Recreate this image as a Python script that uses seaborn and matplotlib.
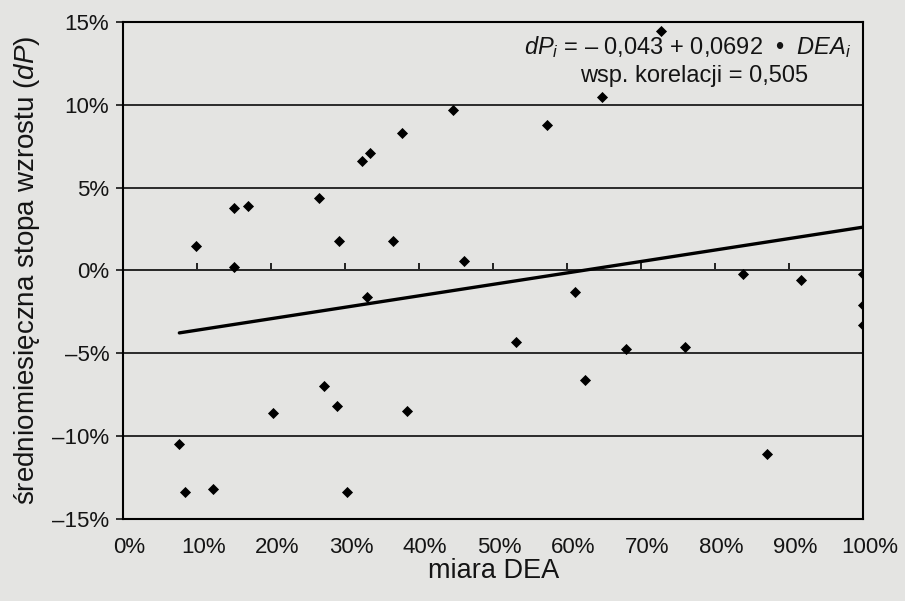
import matplotlib
matplotlib.use("Agg")
import matplotlib.pyplot as plt
import matplotlib.transforms as mtransforms
import seaborn as sns
import numpy as np
import pandas as pd
from matplotlib.ticker import FuncFormatter

# ---- data ----
dea = [0.099, 0.150, 0.169, 0.150, 0.265, 0.291, 0.323, 0.333, 0.377, 0.364,
       0.445, 0.460, 0.329, 0.727, 0.647, 0.572, 0.610, 0.837, 0.916, 1.000,
       1.000, 1.000, 0.531, 0.679, 0.759, 0.624, 0.870, 0.272, 0.289, 0.202,
       0.383, 0.076, 0.083, 0.121, 0.303]
dp_pct = [1.5, 3.8, 3.9, 0.2, 4.4, 1.8, 6.6, 7.1, 8.3, 1.8,
          9.7, 0.6, -1.6, 14.5, 10.5, 8.8, -1.3, -0.2, -0.6, -0.2,
          -2.1, -3.3, -4.3, -4.75, -4.6, -6.6, -11.1, -7.0, -8.2, -8.6,
          -8.5, -10.5, -13.4, -13.2, -13.4]
intercept = -0.043
slope = 0.0692
corr = "0,505"
x_ticks = [0, 0.1, 0.2, 0.3, 0.4, 0.5, 0.6, 0.7, 0.8, 0.9, 1.0]
y_ticks = [-0.15, -0.10, -0.05, 0, 0.05, 0.10, 0.15]

df = pd.DataFrame({"dea": dea, "dp": np.array(dp_pct) / 100.0})
fit_x = np.array([min(dea), max(dea)])
fit = pd.DataFrame({"dea": fit_x, "dp": intercept + slope * fit_x})

sns.set_theme(style="white")
plt.rcParams["font.family"] = ["Liberation Sans", "DejaVu Sans"]
plt.rcParams["mathtext.fontset"] = "custom"
plt.rcParams["mathtext.rm"] = "Liberation Sans"
plt.rcParams["mathtext.it"] = "Liberation Sans:italic"

ink = "#141414"
bg = "#e4e4e2"
fig = plt.figure(figsize=(9.05, 6.01), dpi=100, facecolor=bg)
ax = fig.add_axes([0.136, 0.137, 0.818, 0.826])
ax.set_facecolor(bg)

# gridlines
for yv in y_ticks:
    ax.axhline(yv, color="#2a2a2a", lw=1.4, zorder=1)

sns.lineplot(data=fit, x="dea", y="dp", color="black", lw=2.4, ax=ax, zorder=3)
sns.scatterplot(data=df, x="dea", y="dp", marker="D", s=32, color="black",
                edgecolor="black", linewidth=0, ax=ax, zorder=4)

ax.set_xlim(0, 1)
ax.set_ylim(-0.15, 0.15)
ax.set_xticks(x_ticks)
ax.set_yticks(y_ticks)

def pct(v, pos=None):
    s = f"{round(v * 100):d}%"
    return s.replace("-", "–")

ax.xaxis.set_major_formatter(FuncFormatter(pct))
ax.yaxis.set_major_formatter(FuncFormatter(pct))
ax.tick_params(axis="x", length=0, pad=13.5, labelsize=16, colors=ink)
ax.tick_params(axis="y", length=5, width=1.2, direction="out", pad=5,
               labelsize=16, colors=ink, left=True)

# x tick labels sit slightly right of their ticks in the reference
shift = mtransforms.ScaledTranslation(6 / 100, 0, fig.dpi_scale_trans)
for lab in ax.get_xticklabels():
    lab.set_transform(lab.get_transform() + shift)

for side in ["left", "right", "top", "bottom"]:
    ax.spines[side].set_visible(True)
    ax.spines[side].set_color("black")
    ax.spines[side].set_linewidth(1.5)

# tick marks on the zero line
sec = ax.secondary_xaxis(0.5)
sec.set_xticks(x_ticks)
sec.tick_params(axis="x", direction="out", length=5, width=1.2,
                labelbottom=False, labeltop=False, colors="black")
sec.spines["bottom"].set_visible(False)
sec.set_xticklabels([])

ax.set_xlabel("miara DEA", fontsize=19.5, color=ink)
ax.xaxis.set_label_coords(0.5, -0.1187)
ax.xaxis.label.set_va("baseline")
ax.set_ylabel(r"średniomiesięczna stopa wzrostu ($dP$)", fontsize=20, color=ink)
ax.yaxis.set_label_coords(-0.109, 0.5)

ax.text(0.762, 0.951, r"$dP_i$ = – 0,043 + 0,0692  •  $DEA_i$", transform=ax.transAxes,
        ha="center", va="center", fontsize=17, color=ink, zorder=5)
ax.text(0.772, 0.892, f"wsp. korelacji = {corr}", transform=ax.transAxes,
        ha="center", va="center", fontsize=17, color=ink, zorder=5)

fig.savefig("out.png", dpi=100, facecolor=bg)
